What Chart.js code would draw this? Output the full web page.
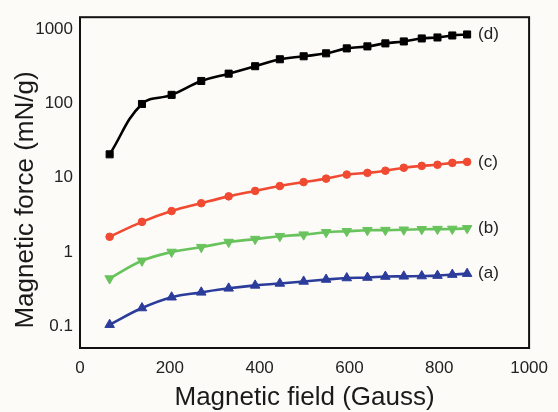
<!DOCTYPE html>
<html>
<head>
<meta charset="utf-8">
<script src="https://cdn.jsdelivr.net/npm/chart.js@4"></script>
<style>
  html, body { margin: 0; padding: 0; background: #fcfbf8; }
  #wrap { width: 558px; height: 412px; }
</style>
</head>
<body>
<div id="wrap"><canvas id="chart" width="558" height="412"></canvas></div>
<script>
// Magnetic field (Gauss) where each force was measured
const fieldGauss = [66, 138, 204, 270, 331, 390, 445, 498, 548, 594, 640, 680, 721, 761, 796, 829, 862];

// Magnetic force (mN/g), one list per sample
const forceA = [0.105, 0.176, 0.246, 0.286, 0.324, 0.355, 0.377, 0.401, 0.426, 0.446, 0.453, 0.467, 0.470, 0.474, 0.481, 0.496, 0.511];
const forceB = [0.439, 0.76, 1.0, 1.16, 1.36, 1.49, 1.63, 1.71, 1.84, 1.90, 1.96, 1.97, 1.99, 2.02, 2.03, 2.04, 2.08];
const forceC = [1.60, 2.54, 3.55, 4.53, 5.6, 6.63, 7.71, 8.71, 9.7, 11.0, 11.6, 12.4, 13.6, 14.4, 14.9, 15.8, 16.3];
const forceD = [20.6, 98, 130, 200, 251, 316, 392, 430, 471, 549, 584, 641, 681, 747, 770, 819, 845];

const seriesLabels = ['(a)', '(b)', '(c)', '(d)'];
const yTickValues = [0.1, 1, 10, 100, 1000];

const FONT = "'Liberation Sans', Arial, Helvetica, sans-serif";
Chart.defaults.font.family = FONT;

const toPoints = (ys) => ys.map((y, i) => ({ x: fieldGauss[i], y }));

const mkSet = (label, data, color, style, radius, rotation) => ({
  label,
  data: toPoints(data),
  borderColor: color,
  backgroundColor: color,
  borderWidth: 2.6,
  pointStyle: style,
  pointRadius: radius,
  pointRotation: rotation || 0,
  pointBorderWidth: 1,
  tension: 0.4,
  fill: false
});

// paper background
const paperBg = {
  id: 'paperBg',
  beforeDraw(chart) {
    const ctx = chart.ctx;
    ctx.save();
    ctx.fillStyle = '#fcfbf8';
    ctx.fillRect(0, 0, chart.width, chart.height);
    ctx.restore();
  }
};

// closed frame round the plot area
const frame = {
  id: 'frame',
  beforeDatasetsDraw(chart) {
    const { ctx, chartArea: a } = chart;
    ctx.save();
    ctx.strokeStyle = '#111';
    ctx.lineWidth = 2;
    ctx.strokeRect(a.left, a.top, a.right - a.left, a.bottom - a.top);
    ctx.restore();
  }
};

// (a)..(d) next to the last point of each curve
const endLabels = {
  id: 'endLabels',
  afterDatasetsDraw(chart) {
    const ctx = chart.ctx;
    ctx.save();
    ctx.font = '17px ' + FONT;
    ctx.fillStyle = '#222';
    ctx.textBaseline = 'middle';
    ctx.textAlign = 'left';
    chart.data.datasets.forEach((ds, i) => {
      const pts = chart.getDatasetMeta(i).data;
      const last = pts[pts.length - 1];
      ctx.fillText(ds.label, last.x + 11, last.y);
    });
    ctx.restore();
  }
};

// axis titles
const axisTitles = {
  id: 'axisTitles',
  afterDraw(chart) {
    const { ctx, chartArea: a } = chart;
    ctx.save();
    ctx.font = '26px ' + FONT;
    ctx.fillStyle = '#1a1a1a';
    ctx.textAlign = 'center';
    ctx.textBaseline = 'alphabetic';
    ctx.fillText('Magnetic field (Gauss)', (a.left + a.right) / 2, 405);
    ctx.translate(33, 200);
    ctx.rotate(-Math.PI / 2);
    ctx.fillText('Magnetic force (mN/g)', 0, 0);
    ctx.restore();
  }
};

new Chart(document.getElementById('chart'), {
  type: 'line',
  data: {
    datasets: [
      mkSet(seriesLabels[0], forceA, '#2b3c9b', 'triangle', 5.5),
      mkSet(seriesLabels[1], forceB, '#69c35c', 'triangle', 5.5, 180),
      mkSet(seriesLabels[2], forceC, '#f04a33', 'circle', 3.8),
      mkSet(seriesLabels[3], forceD, '#000000', 'rect', 5)
    ]
  },
  options: {
    responsive: false,
    animation: false,
    layout: { padding: { top: 12, right: 22, left: 0, bottom: 0 } },
    plugins: {
      legend: { display: false },
      tooltip: { enabled: false }
    },
    scales: {
      x: {
        type: 'linear',
        min: 0,
        max: 1000,
        border: { display: false },
        grid: { display: false, drawTicks: false },
        ticks: {
          stepSize: 200,
          padding: 10,
          color: '#222',
          font: { size: 17 },
          maxRotation: 0,
          callback: (v) => String(v)
        },
        afterFit(scale) { scale.height = 64; }
      },
      y: {
        type: 'logarithmic',
        min: 0.051,
        max: 1443,
        border: { display: false },
        grid: { display: false, drawTicks: false },
        ticks: {
          padding: 7,
          color: '#222',
          font: { size: 17 },
          callback: (v) => String(v)
        },
        afterBuildTicks(scale) {
          scale.ticks = yTickValues.map((v) => ({ value: v }));
        },
        afterFit(scale) { scale.width = 80; }
      }
    }
  },
  plugins: [paperBg, frame, endLabels, axisTitles]
});
</script>
</body>
</html>
